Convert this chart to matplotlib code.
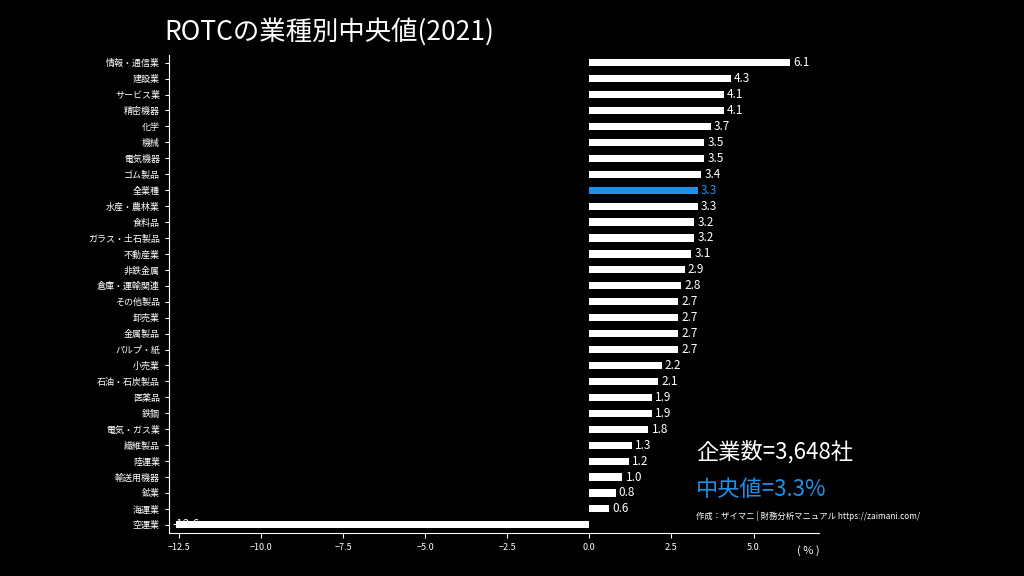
import matplotlib.pyplot as plt
import matplotlib.ticker as mticker

plt.rcParams['font.family'] = ['Noto Sans CJK JP']

industries = ['情報・通信業', '建設業', 'サービス業', '精密機器', '化学', '機械', '電気機器', 'ゴム製品',
              '全業種', '水産・農林業', '食料品', 'ガラス・土石製品', '不動産業', '非鉄金属', '倉庫・運輸関連',
              'その他製品', '卸売業', '金属製品', 'パルプ・紙', '小売業', '石油・石炭製品', '医薬品', '鉄鋼',
              '電気・ガス業', '繊維製品', '陸運業', '輸送用機器', '鉱業', '海運業', '空運業']
values = [6.1, 4.3, 4.1, 4.1, 3.7, 3.5, 3.5, 3.4, 3.3, 3.3, 3.2, 3.2, 3.1, 2.9, 2.8,
          2.7, 2.7, 2.7, 2.7, 2.2, 2.1, 1.9, 1.9, 1.8, 1.3, 1.2, 1.0, 0.8, 0.6, -12.6]
highlight = '全業種'
blue = '#1e90e8'

fig = plt.figure(figsize=(10.24, 5.76), dpi=100, facecolor='black')
ax = fig.add_axes([0.165, 0.075, 0.635, 0.83], facecolor='black')

ys = list(range(len(industries)))
colors = [blue if c == highlight else 'white' for c in industries]
ax.barh(ys, values, height=0.45, color=colors)
for y, v, c, col in zip(ys, values, industries, colors):
    ax.text(v + 0.1 if v >= 0 else v - 0.1, y, f'{v:.1f}', va='center',
            ha='left' if v >= 0 else 'right' if False else 'left',
            color=col, fontsize=8.5)

ax.set_yticks(ys)
ax.set_yticklabels(industries, fontsize=6.5, color='white')
ax.set_ylim(len(industries) - 0.5, -0.5)
ax.set_xlim(-12.8, 7.0)
ax.xaxis.set_major_locator(mticker.MultipleLocator(2.5))
ax.tick_params(axis='x', colors='white', labelsize=6.5)
ax.tick_params(axis='y', colors='white', length=3)
for s in ['top', 'right']:
    ax.spines[s].set_visible(False)
for s in ['left', 'bottom']:
    ax.spines[s].set_color('white')
ax.text(1.0, -0.025, '( % )', transform=ax.transAxes, color='white', fontsize=8, va='top', ha='right')

fig.text(0.161, 0.945, 'ROTCの業種別中央値(2021)', color='white', fontsize=19, va='center')
fig.text(0.68, 0.215, '企業数=3,648社', color='white', fontsize=16, va='center')
fig.text(0.68, 0.15, '中央値=3.3%', color=blue, fontsize=16, va='center')
fig.text(0.68, 0.105, '作成：ザイマニ | 財務分析マニュアル https://zaimani.com/', color='white', fontsize=6, va='center')

fig.savefig('out.png', facecolor='black')
